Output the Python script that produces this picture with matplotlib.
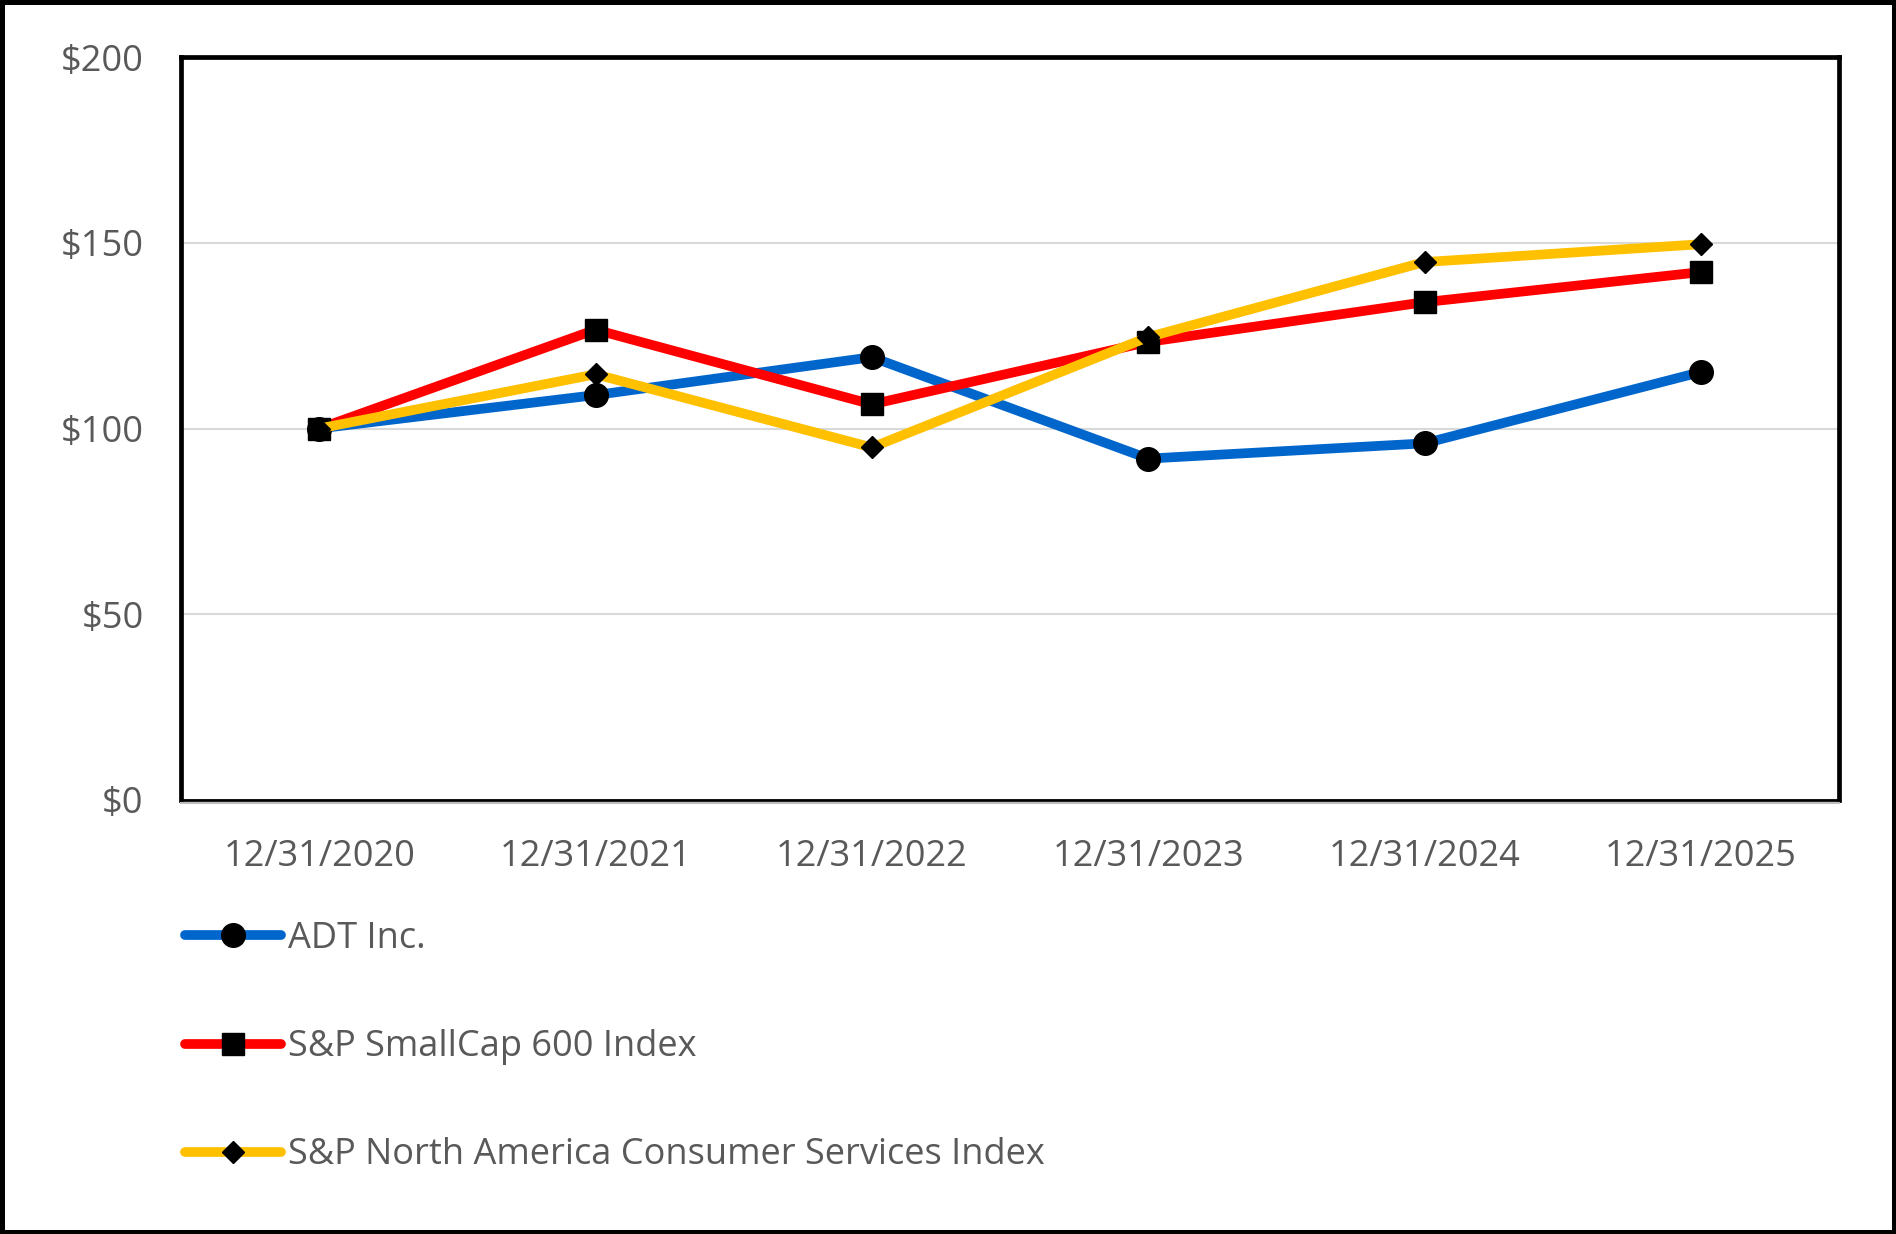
import matplotlib.pyplot as plt
from matplotlib.patches import Rectangle
from matplotlib.lines import Line2D

# ---- data ----
dates = ["12/31/2020", "12/31/2021", "12/31/2022", "12/31/2023", "12/31/2024", "12/31/2025"]
adt = [100, 109.0, 119.2, 91.9, 96.0, 115.2]
smallcap600 = [100, 126.6, 106.5, 123.3, 134.0, 142.1]
consumer_services = [100, 114.6, 94.9, 124.6, 144.8, 149.6]
y_ticks = [0, 50, 100, 150, 200]
y_tick_labels = ["$0", "$50", "$100", "$150", "$200"]

plt.rcParams['font.family'] = ['Open Sans', 'DejaVu Sans']
text_grey = '#595959'
fs = 26

fig = plt.figure(figsize=(18.96, 12.34), dpi=100)
ax = fig.add_axes([181 / 1896, 1 - 800 / 1234, (1839 - 181) / 1896, (800 - 57) / 1234])

x = list(range(len(dates)))
ax.plot(x, adt, color='#0066CC', lw=7, marker='o', ms=17,
        mfc='black', mec='black', label='ADT Inc.', solid_capstyle='round', zorder=3)
ax.plot(x, smallcap600, color='#FF0000', lw=7, marker='s', ms=16.5,
        mfc='black', mec='black', label='S&P SmallCap 600 Index', solid_capstyle='round', zorder=4)
ax.plot(x, consumer_services, color='#FFC000', lw=7, marker='D', ms=11,
        mfc='black', mec='black', label='S&P North America Consumer Services Index',
        solid_capstyle='round', zorder=5)

ax.set_xlim(-0.5, len(dates) - 0.5)
ax.set_ylim(0, 200)
ax.set_xticks(x)
ax.set_xticklabels(dates)
ax.set_yticks(y_ticks)
ax.set_yticklabels(y_tick_labels)
ax.tick_params(axis='both', length=0, labelsize=fs, colors=text_grey)
ax.tick_params(axis='y', pad=27)
ax.tick_params(axis='x', pad=28)
ax.grid(axis='y', color='#D9D9D9', lw=1.5, zorder=0)
ax.set_axisbelow(True)

for side in ['left', 'top', 'right']:
    ax.spines[side].set_linewidth(3.4)
    ax.spines[side].set_color('black')
ax.spines['bottom'].set_linewidth(2)
ax.spines['bottom'].set_color('black')

# grey x-axis line just under the frame
fig.add_artist(Line2D([181 / 1896, 1839 / 1896], [1 - 803 / 1234, 1 - 803 / 1234],
                      color='#BFBFBF', lw=1.5))

leg = fig.legend(loc='upper left', bbox_to_anchor=(185 / 1896, 1 - 921 / 1234),
                 frameon=False, fontsize=fs, borderpad=0, borderaxespad=0,
                 handlelength=2.65, handletextpad=0.2, labelspacing=2.0,
                 labelcolor=text_grey)

# outer black border of the image
fig.add_artist(Rectangle((0, 0), 1, 1, transform=fig.transFigure, fill=False,
                         edgecolor='black', lw=6.5, clip_on=False))

fig.savefig('out.png', dpi=100)
